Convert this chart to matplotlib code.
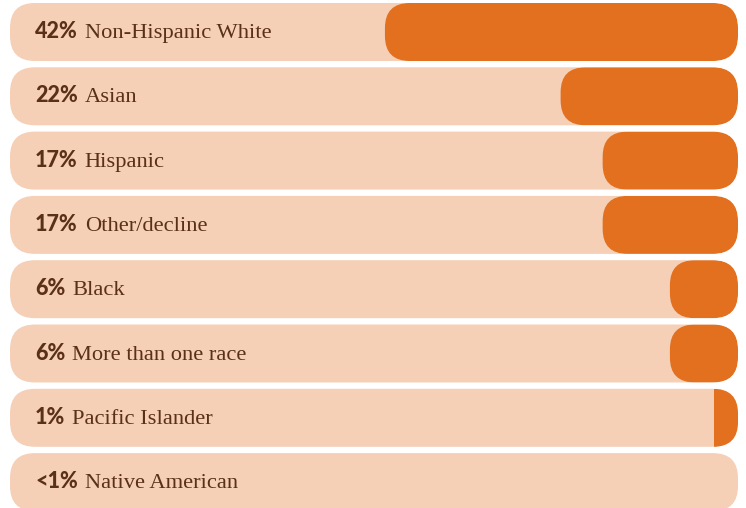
import matplotlib
matplotlib.use("Agg")
import matplotlib.pyplot as plt
from matplotlib.patches import FancyBboxPatch, Rectangle

# ---- data ----
categories = ["Non-Hispanic White", "Asian", "Hispanic", "Other/decline",
              "Black", "More than one race", "Pacific Islander", "Native American"]
pct_labels = ["42%", "22%", "17%", "17%", "6%", "6%", "1%", "<1%"]
# bar lengths as drawn in the picture (percent units)
bar_lengths = [42, 21.1, 16.1, 16.1, 8.1, 8.1, 2.9, 0]

# ---- style ----
BG = "#F5D0B6"
ORANGE = "#E2701F"
TXT = "#5A3118"
W, H = 746, 508
DPI = 100

fig = plt.figure(figsize=(W / DPI, H / DPI), dpi=DPI)
fig.patch.set_facecolor("white")

left_px, right_px = 10, 738
x_max = 86.6
ax = fig.add_axes([left_px / W, 0, (right_px - left_px) / W, 1])
ax.set_xlim(0, x_max)
pitch = 64.3
first_center = 32.0
ax.set_ylim((H - first_center) / pitch, -first_center / pitch)
ax.axis("off")

px_x = x_max / (right_px - left_px)     # data units per px in x
px_y = 1.0 / pitch                      # data units per px in y
aspect = px_y / px_x
radius_px = 25
r = radius_px * px_x
bar_h = 58 * px_y

renderer = fig.canvas.get_renderer()
for i, (cat, pl, L) in enumerate(zip(categories, pct_labels, bar_lengths)):
    y0 = i - bar_h / 2
    bg = FancyBboxPatch((0, y0), x_max, bar_h,
                        boxstyle=f"round,pad=0,rounding_size={r}",
                        mutation_aspect=aspect, facecolor=BG, edgecolor="none")
    ax.add_patch(bg)
    if L > 0:
        if L / px_x >= 2 * radius_px:
            fg = FancyBboxPatch((x_max - L, y0), L, bar_h,
                                boxstyle=f"round,pad=0,rounding_size={r}",
                                mutation_aspect=aspect, facecolor=ORANGE,
                                edgecolor="none")
        else:
            fg = Rectangle((x_max - L, y0), L, bar_h, facecolor=ORANGE,
                           edgecolor="none")
        ax.add_patch(fg)
        fg.set_clip_path(bg)

    ty = i + 6.0 * px_y
    t = ax.text((35 - left_px) * px_x, ty, pl, fontsize=15.5, fontweight=900,
                family="Lato", color=TXT, va="baseline", ha="left")
    bb = t.get_window_extent(renderer=renderer)
    ax.text((bb.x1 + 7 - left_px) * px_x, ty, cat,
            fontsize=16.2, family="Liberation Serif", color=TXT,
            va="baseline", ha="left")

fig.savefig("out.png", dpi=DPI, facecolor="white")
